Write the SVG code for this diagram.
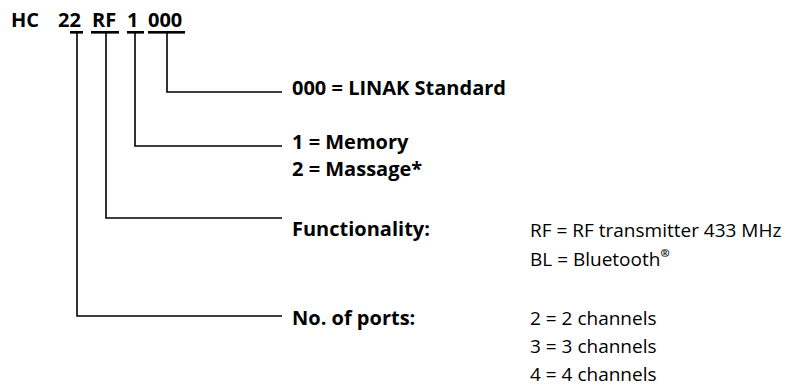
<svg xmlns="http://www.w3.org/2000/svg" width="788" height="387" viewBox="0 0 788 387">
<style>
.b{font-family:"Open Sans","Noto Sans",sans-serif;font-weight:bold;font-size:20px;fill:#000}
.r{font-family:"Open Sans","Noto Sans",sans-serif;font-size:19px;fill:#000}
.ln{fill:none;stroke:#000;stroke-width:1.6}
.ul{fill:#000}
</style>
<rect width="788" height="387" fill="#fff"/>
<g id="code">
<text class="b" x="11" y="27">HC</text>
<text class="b" x="58" y="27">22</text>
<text class="b" x="92" y="27">RF</text>
<text class="b" x="127" y="27">1</text>
<text class="b" x="148" y="27">000</text>
<rect class="ul" x="70" y="31" width="13" height="2.6"/>
<rect class="ul" x="91" y="31" width="28" height="2.6"/>
<rect class="ul" x="127" y="31" width="17" height="2.6"/>
<rect class="ul" x="148" y="31" width="37" height="2.6"/>
</g>
<g id="connectors">
<polyline class="ln" points="167,33 167,92 282,92"/>
<polyline class="ln" points="135,33 135,146 282,146"/>
<polyline class="ln" points="106,33 106,218 282,218"/>
<polyline class="ln" points="77,33 77,316 282,316"/>
</g>
<g id="standard">
<text class="b" x="292" y="95">000 = LINAK Standard</text>
</g>
<g id="memory">
<text class="b" x="292" y="149">1 = Memory</text>
<text class="b" x="292" y="176">2 = Massage*</text>
</g>
<g id="functionality">
<text class="b" x="292" y="236">Functionality:</text>
<text class="r" x="530" y="237">RF = RF transmitter 433 MHz</text>
<text class="r" x="530" y="266">BL = Bluetooth<tspan font-size="11" font-weight="bold" dy="-9">®</tspan></text>
</g>
<g id="ports">
<text class="b" x="292" y="325">No. of ports:</text>
<text class="r" x="530" y="325">2 = 2 channels</text>
<text class="r" x="530" y="353">3 = 3 channels</text>
<text class="r" x="530" y="381">4 = 4 channels</text>
</g>
</svg>
